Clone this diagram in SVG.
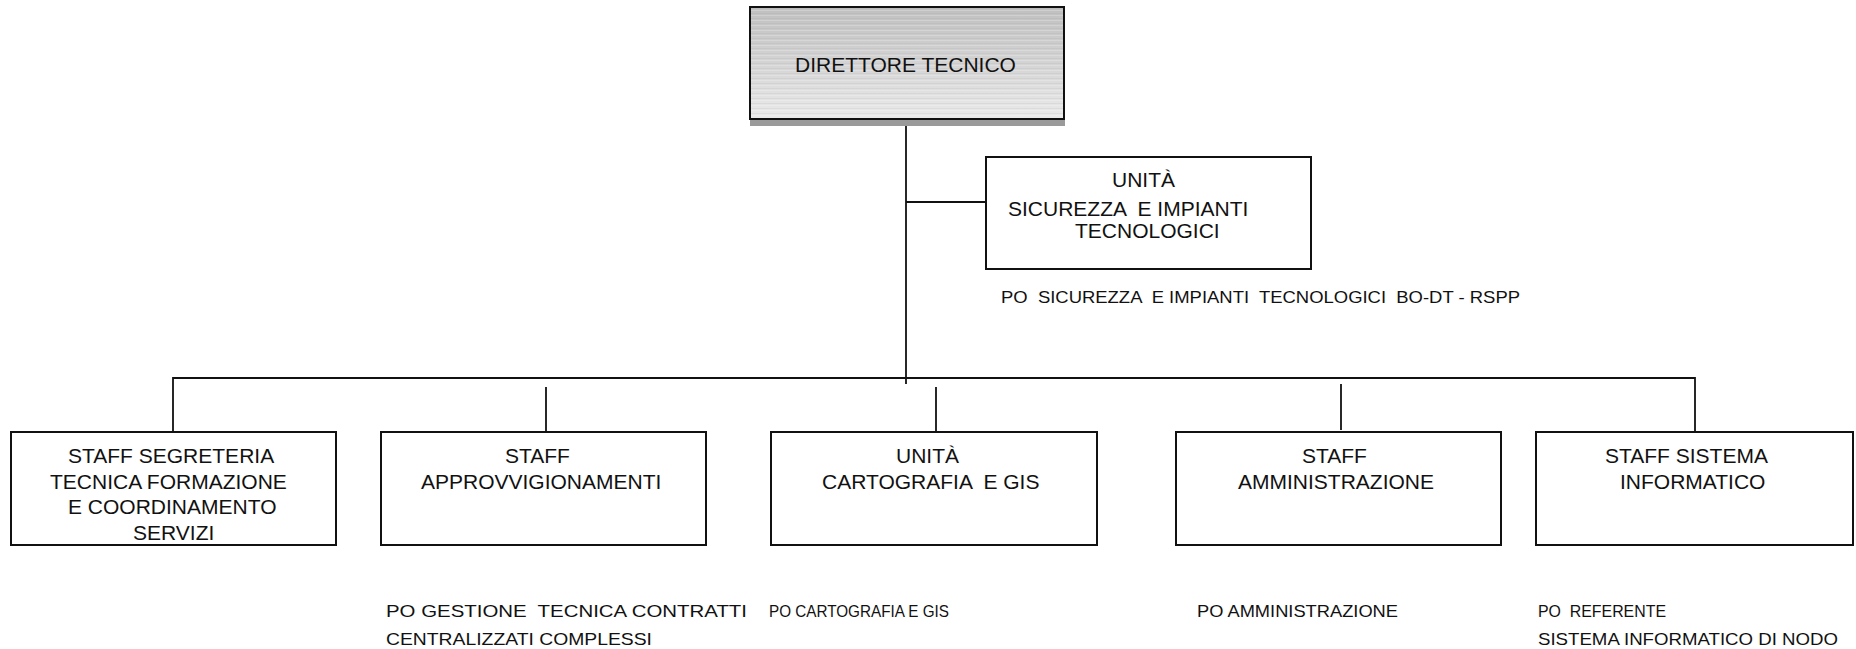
<svg xmlns="http://www.w3.org/2000/svg" width="1856" height="649" viewBox="0 0 1856 649">
  <style>
    text { font-family: "Liberation Sans", Arial, sans-serif; fill: #111; white-space: pre; }
    .box { fill: #fff; stroke: #111; stroke-width: 2; }
    .lbl { font-size: 21px; }
    .po { font-size: 17px; }
    .wire { fill: none; stroke: #111; stroke-width: 1.8; }
  </style>
  <defs>
    <linearGradient id="steel" x1="0" y1="0" x2="0" y2="1">
      <stop offset="0" stop-color="#c0c0c0"/>
      <stop offset="0.5" stop-color="#d4d4d4"/>
      <stop offset="1" stop-color="#ebebeb"/>
    </linearGradient>
    <pattern id="streaks" width="320" height="5" patternUnits="userSpaceOnUse">
      <rect x="0" y="0" width="320" height="1" fill="#ffffff" opacity="0.22"/>
      <rect x="0" y="3" width="320" height="1" fill="#8a8a8a" opacity="0.12"/>
    </pattern>
  </defs>

  <!-- connectors -->
  <g id="connectors">
    <line class="wire" x1="906" y1="126" x2="906" y2="384"/>
    <line class="wire" x1="906" y1="202" x2="986" y2="202"/>
    <polyline class="wire" points="173,432 173,378 1695,378 1695,432"/>
    <line class="wire" x1="546" y1="387" x2="546" y2="432"/>
    <line class="wire" x1="936" y1="387" x2="936" y2="432"/>
    <line class="wire" x1="1341" y1="384" x2="1341" y2="430"/>
  </g>

  <!-- top: technical director -->
  <g id="direttore">
    <rect x="750" y="119" width="315" height="7" fill="#9a9a9a"/>
    <rect x="750" y="7" width="314" height="112" fill="url(#steel)"/>
    <rect x="750" y="7" width="314" height="112" fill="url(#streaks)"/>
    <rect x="750" y="7" width="314" height="112" fill="none" stroke="#111" stroke-width="2"/>
    <text class="lbl" x="795" y="72">DIRETTORE TECNICO</text>
  </g>

  <g id="sicurezza">
    <rect class="box" x="986" y="157" width="325" height="112"/>
    <text class="lbl" x="1112" y="187">UNITÀ</text>
    <text class="lbl" x="1008" y="216">SICUREZZA  E IMPIANTI</text>
    <text class="lbl" x="1075" y="238">TECNOLOGICI</text>
    <text class="po" x="1001" y="303" textLength="519" lengthAdjust="spacingAndGlyphs">PO  SICUREZZA  E IMPIANTI  TECNOLOGICI  BO-DT - RSPP</text>
  </g>

  <!-- second level -->
  <g id="segreteria">
    <rect class="box" x="11" y="432" width="325" height="113"/>
    <text class="lbl" x="68" y="463">STAFF SEGRETERIA</text>
    <text class="lbl" x="50" y="489">TECNICA FORMAZIONE</text>
    <text class="lbl" x="68" y="514">E COORDINAMENTO</text>
    <text class="lbl" x="133" y="540">SERVIZI</text>
  </g>

  <g id="approvvigionamenti">
    <rect class="box" x="381" y="432" width="325" height="113"/>
    <text class="lbl" x="505" y="463">STAFF</text>
    <text class="lbl" x="421" y="489">APPROVVIGIONAMENTI</text>
    <text class="po" x="386" y="617" textLength="361" lengthAdjust="spacingAndGlyphs">PO GESTIONE  TECNICA CONTRATTI</text>
    <text class="po" x="386" y="645" textLength="266" lengthAdjust="spacingAndGlyphs">CENTRALIZZATI COMPLESSI</text>
  </g>

  <g id="cartografia">
    <rect class="box" x="771" y="432" width="326" height="113"/>
    <text class="lbl" x="896" y="463">UNITÀ</text>
    <text class="lbl" x="822" y="489">CARTOGRAFIA  E GIS</text>
    <text class="po" x="769" y="617" textLength="180" lengthAdjust="spacingAndGlyphs">PO CARTOGRAFIA E GIS</text>
  </g>

  <g id="amministrazione">
    <rect class="box" x="1176" y="432" width="325" height="113"/>
    <text class="lbl" x="1302" y="463">STAFF</text>
    <text class="lbl" x="1238" y="489">AMMINISTRAZIONE</text>
    <text class="po" x="1197" y="617" textLength="201" lengthAdjust="spacingAndGlyphs">PO AMMINISTRAZIONE</text>
  </g>

  <g id="sistema-informatico">
    <rect class="box" x="1536" y="432" width="317" height="113"/>
    <text class="lbl" x="1605" y="463">STAFF SISTEMA</text>
    <text class="lbl" x="1620" y="489">INFORMATICO</text>
    <text class="po" x="1538" y="617" textLength="128" lengthAdjust="spacingAndGlyphs">PO  REFERENTE</text>
    <text class="po" x="1538" y="645" textLength="300" lengthAdjust="spacingAndGlyphs">SISTEMA INFORMATICO DI NODO</text>
  </g>
</svg>
